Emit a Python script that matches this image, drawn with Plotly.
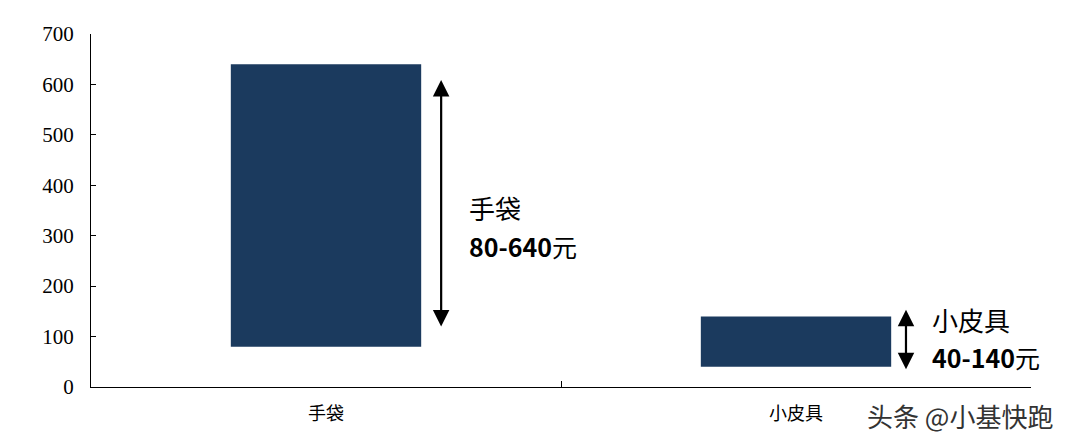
import plotly.graph_objects as go

categories = ['手袋', '小皮具']
price_low = [80, 40]
price_high = [640, 140]
range_titles = ['手袋', '小皮具']
range_texts = ['80-640', '40-140']

BAR_COLOR = '#1b3a5e'
CJK = 'Noto Sans CJK SC'

fig = go.Figure(go.Bar(
    x=categories,
    y=[h - l for h, l in zip(price_high, price_low)],
    base=price_low,
    marker_color=BAR_COLOR,
    marker_line_width=0,
    width=0.405,
    hoverinfo='skip',
))

# double-headed arrows and range labels beside each bar
arrows = [dict(x=0.245, y0=117, y1=609), dict(x=1.234, y0=32, y1=153)]
labels = [dict(x=0.30, yt=355, yb=280), dict(x=1.285, yt=133, yb=60)]

annotations = []
for i, (a, lb) in enumerate(zip(arrows, labels)):
    annotations.append(dict(
        x=a['x'], y=a['y1'], ax=a['x'], ay=a['y0'],
        xref='x', yref='y', axref='x', ayref='y',
        text='', showarrow=True, arrowhead=2, arrowside='end+start',
        arrowsize=1.5, arrowwidth=2.2, arrowcolor='#000000',
    ))
    annotations.append(dict(
        x=lb['x'], y=lb['yt'], xref='x', yref='y', xanchor='left',
        text=range_titles[i], showarrow=False,
        font=dict(family=CJK, size=26, color='#000000'),
    ))
    annotations.append(dict(
        x=lb['x'], y=lb['yb'], xref='x', yref='y', xanchor='left',
        text='<b>' + range_texts[i] + '</b>元', showarrow=False,
        font=dict(family=CJK, size=25, color='#000000'),
    ))

annotations.append(dict(
    x=1.026, y=-0.082, xref='paper', yref='paper', xanchor='right', yanchor='middle',
    text='头条 @小基快跑', showarrow=False,
    font=dict(family=CJK, size=26, color='#333333'),
))

fig.update_layout(
    width=1054, height=431,
    margin=dict(l=83, r=31, t=26, b=52),
    paper_bgcolor='white', plot_bgcolor='white',
    showlegend=False,
    annotations=annotations,
    xaxis=dict(
        showline=True, linecolor='#000000', linewidth=1,
        ticks='inside', tickson='boundaries', ticklen=6, tickcolor='#000000',
        tickfont=dict(family=CJK, size=18, color='#000000'),
        ticklabelstandoff=10,
        range=[-0.5, 1.5],
    ),
    yaxis=dict(
        range=[0, 700], dtick=100,
        showline=True, linecolor='#000000', linewidth=1,
        ticks='inside', ticklen=5, tickcolor='#000000',
        showgrid=False, zeroline=False,
        ticklabelstandoff=12,
        tickfont=dict(family='Liberation Serif', size=21, color='#000000'),
    ),
)

fig.write_html('out.html')
